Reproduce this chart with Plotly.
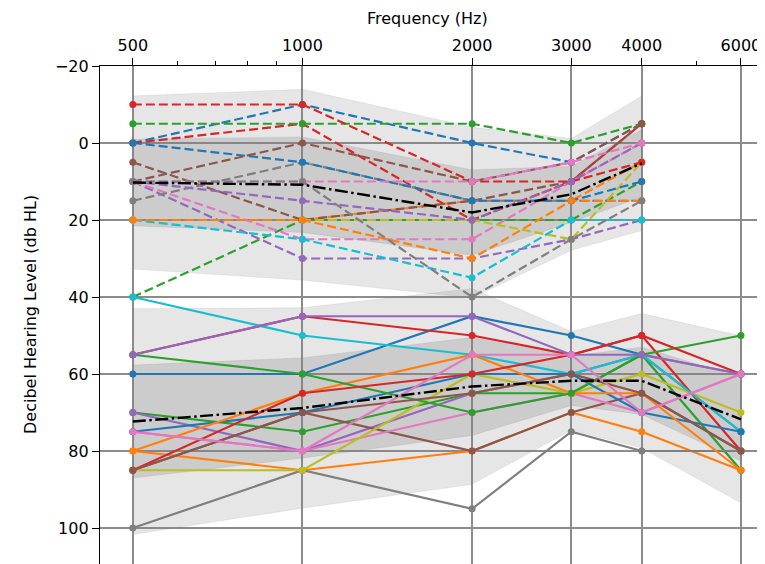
import numpy as np
import plotly.graph_objects as go

# ---------------- data ----------------
freqs = [500, 1000, 2000, 3000, 4000, 6000]
freq_labels = ["500", "1000", "2000", "3000", "4000", "6000"]
minor_freqs = [600, 700, 800, 900, 5000]
y_ticks = [-20, 0, 20, 40, 60, 80, 100]
y_tick_labels = ["\u221220", "0", "20", "40", "60", "80", "100"]

colors = ["#1f77b4", "#ff7f0e", "#2ca02c", "#d62728", "#9467bd",
          "#8c564b", "#e377c2", "#7f7f7f", "#bcbd22", "#17becf"]

# dashed group (500-4000 Hz)
normal_freqs = [500, 1000, 2000, 3000, 4000]
normal_blue1 = [0, -10, 0, 5, -5]
normal_orange1 = [20, 20, 15, 15, 5]
normal_green1 = [40, 20, 20, 20, 10]
normal_red1 = [0, -5, 20, 10, -5]
normal_purple1 = [10, 30, 30, 25, 20]
normal_brown1 = [5, 20, 15, 10, -5]
normal_pink1 = [10, 25, 25, 10, 0]
normal_gray1 = [15, 5, 15, 15, 15]
normal_olive1 = [20, 20, 20, 25, 5]
normal_cyan1 = [20, 25, 35, 20, 20]
normal_blue2 = [0, 5, 15, 15, 10]
normal_orange2 = [20, 20, 30, 15, 15]
normal_green2 = [-5, -5, -5, 0, -5]
normal_red2 = [-10, -10, 10, 10, 5]
normal_purple2 = [10, 15, 20, 10, 0]
normal_brown2 = [10, 0, 10, 5, -5]
normal_pink2 = [10, 10, 10, 5, 0]
normal_gray2 = [10, 10, 40, 25, 15]

# solid group (500-6000 Hz)
impaired_blue1 = [60, 60, 45, 50, 55, 75]
impaired_orange1 = [80, 85, 80, 70, 75, 85]
impaired_green1 = [70, 75, 65, 65, 55, 85]
impaired_red1 = [55, 45, 50, 55, 50, 80]
impaired_purple1 = [70, 80, 65, 60, 55, 60]
impaired_brown1 = [85, 70, 80, 70, 65, 80]
impaired_pink1 = [75, 80, 70, 65, 70, 60]
impaired_gray1 = [100, 85, 95, 75, 80, 80]
impaired_olive1 = [85, 85, 60, 65, 60, 70]
impaired_cyan1 = [40, 50, 55, 60, 55, 75]
impaired_blue2 = [75, 70, 60, 60, 70, 75]
impaired_orange2 = [80, 65, 55, 65, 65, 85]
impaired_green2 = [55, 60, 70, 65, 55, 50]
impaired_red2 = [85, 65, 60, 55, 50, 60]
impaired_purple2 = [55, 45, 45, 55, 55, 60]
impaired_brown2 = [85, 70, 65, 60, 65, 80]
impaired_pink2 = [75, 80, 55, 55, 70, 60]

normal_group = [normal_blue1, normal_orange1, normal_green1, normal_red1, normal_purple1,
                normal_brown1, normal_pink1, normal_gray1, normal_olive1, normal_cyan1,
                normal_blue2, normal_orange2, normal_green2, normal_red2, normal_purple2,
                normal_brown2, normal_pink2, normal_gray2]
impaired_group = [impaired_blue1, impaired_orange1, impaired_green1, impaired_red1,
                  impaired_purple1, impaired_brown1, impaired_pink1, impaired_gray1,
                  impaired_olive1, impaired_cyan1, impaired_blue2, impaired_orange2,
                  impaired_green2, impaired_red2, impaired_purple2, impaired_brown2,
                  impaired_pink2]

fig = go.Figure()


def add_bands(xs, group):
    arr = np.array(group, dtype=float)
    m = arr.mean(axis=0)
    s = arr.std(axis=0)
    xs = list(xs)
    for k, alpha in ((2, 0.2), (1, 0.25)):
        up = list(m - k * s)
        lo = list(m + k * s)
        fig.add_trace(go.Scatter(
            x=xs + xs[::-1], y=up + lo[::-1], fill="toself",
            fillcolor=f"rgba(128,128,128,{alpha})",
            line=dict(width=0.8, color=f"rgba(128,128,128,{alpha*0.8})"),
            mode="lines", hoverinfo="skip", showlegend=False))
    return m


def add_group(xs, group, dash, mean):
    for i, vals in enumerate(group):
        c = colors[i % 10]
        fig.add_trace(go.Scatter(
            x=xs, y=vals, mode="lines+markers",
            line=dict(color=c, width=2.2, dash=dash),
            marker=dict(color=c, size=7),
            showlegend=False))
    fig.add_trace(go.Scatter(
        x=xs, y=list(mean), mode="lines",
        line=dict(color="black", width=2.4, dash="13px,3.5px,2.5px,3.5px"),
        showlegend=False))


m_norm = add_bands(normal_freqs, normal_group)
m_imp = add_bands(freqs, impaired_group)
add_group(normal_freqs, normal_group, "9px,4px", m_norm)
add_group(freqs, impaired_group, "solid", m_imp)

font = dict(family="DejaVu Sans", size=16, color="black")

# page body has an 8px margin, so the figure is placed at (8, 8) on screen
L, T, W = 92, 58, 665

fig.update_layout(
    width=757, height=556,
    margin=dict(l=L, r=0, t=T, b=0, autoexpand=False),
    paper_bgcolor="white", plot_bgcolor="white",
    font=font,
    showlegend=False,
    xaxis=dict(
        type="log", side="top", automargin=False,
        range=[np.log10(437.2), np.log10(6620)],
        tickmode="array", tickvals=freqs, ticktext=freq_labels,
        ticks="outside", ticklen=7, tickcolor="black", tickwidth=1.2,
        showgrid=True, gridcolor="#8c8c8c", gridwidth=1.6,
        showline=True, linecolor="black", linewidth=1.3,
        zeroline=False, tickfont=font,
        minor=dict(tickvals=minor_freqs, ticks="outside", ticklen=4,
                   tickcolor="black", tickwidth=1, showgrid=False),
    ),
    yaxis=dict(
        range=[109.35, -20], automargin=False,
        tickmode="array", tickvals=y_ticks, ticktext=y_tick_labels,
        ticks="outside", ticklen=7, tickcolor="black", tickwidth=1.2,
        showgrid=True, gridcolor="#8c8c8c", gridwidth=1.6,
        showline=True, linecolor="black", linewidth=1.3,
        zeroline=False, tickfont=font,
    ),
    annotations=[
        dict(text="Frequency (Hz)", xref="paper", yref="paper",
             x=(419 - L) / W, y=1, yshift=T - 10, xanchor="center", yanchor="middle",
             showarrow=False, font=font),
        dict(text="Decibel Hearing Level (db HL)", xref="paper", yref="paper",
             x=0, xshift=22 - L, y=0.5,
             textangle=-90, xanchor="center", yanchor="middle",
             showarrow=False, font=font),
    ],
)

fig.write_html("out.html")
